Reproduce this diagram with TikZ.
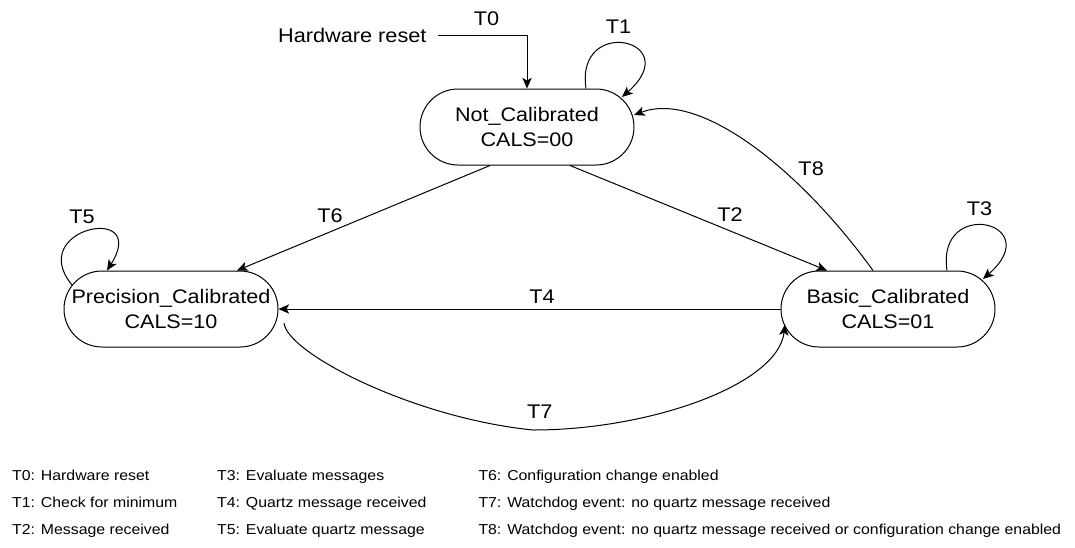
\documentclass[tikz,border=0pt]{standalone}
\usepackage{fontspec}
\setmainfont{Liberation Sans}[FakeStretch=1.1]
\usetikzlibrary{automata, positioning, arrows.meta}
\tikzset{
->, % every connector is directed
>={Stealth[length=8pt, width=7pt, inset=2pt]}, % filled arrow heads
node distance=537.75pt, % centre to centre of the two lower states
every state/.style={rectangle, rounded corners=28.5pt, minimum width=160.5pt, minimum height=57pt, inner sep=0pt, align=center, font=\fontsize{14.7}{18.75}\selectfont}, % rounded state boxes
lbl/.style={inner sep=1.5pt, font=\fontsize{14.8}{16}\selectfont}, % transition names
legend/.style={anchor=base west, inner sep=0pt, font=\fontsize{10.8}{13}\selectfont}, % key below the graph
}

\begin{document}
\begin{tikzpicture}[x=0.75pt, y=-0.75pt, line width=0.75pt]
        \useasboundingbox (0,0) rectangle (1075,547);

        \node[state] (prec) at (171,309) {Precision\_Calibrated\\CALS=10};
        \node[state, right of=prec] (basic) {Basic\_Calibrated\\CALS=01};
        \node[state] (notcal) at (527,127) {Not\_Calibrated\\CALS=00};
        \node[lbl, inner sep=0pt, anchor=east] (hwreset) at (427,35) {Hardware reset};

        \draw ([xshift=8.25pt]hwreset.east) -| (notcal.north) node[lbl, above=5pt, pos=0.272] {T0};
        \draw ([xshift=44.25pt]notcal.north) .. controls +(-11,-74) and +(65,-57) .. ([shift={(71.25pt,22.5pt)}]notcal.center) node[lbl, above=5pt, pos=0.45] {T1};
        \draw ([xshift=32.25pt]notcal.south) -- node[lbl, above=5pt, pos=0.623] {T2} ([xshift=-45.75pt]basic.north);
        \draw ([xshift=44.25pt]basic.north) .. controls +(-11,-74) and +(65,-57) .. ([shift={(71.25pt,22.5pt)}]basic.center) node[lbl, above=5pt, pos=0.45] {T3};
        \draw (basic.west) -- node[lbl, above=2pt, pos=0.475] {T4} (prec.east);
        \draw ([shift={(-74.25pt,18pt)}]prec.center) .. controls +(-47,-57) and +(43,-68) .. ([xshift=-48pt]prec.north) node[lbl, above=5pt, pos=0.45] {T5};
        \draw ([xshift=-27.75pt]notcal.south) -- node[lbl, above=5pt, pos=0.632] {T6} ([xshift=49.5pt]prec.north);
        \coordinate (t7mid) at (533,430);
        \draw ([shift={(84.75pt,-10.5pt)}]prec.center) .. controls +(3,30) and +(-120,-12) .. (t7mid) node[lbl, above=6.5pt, xshift=5pt] {T7}
        .. controls +(117,0) and +(-7,60) .. ([shift={(-77.25pt,-11.75pt)}]basic.center);
        \draw ([xshift=-11.25pt]basic.north) .. controls +(-73,-101) and +(66,-25) .. ([shift={(80.25pt,9pt)}]notcal.center) node[lbl, above right=2pt, pos=0.33] {T8};

        \node[legend] (leg0) at (11.7,480.7) {T0: Hardware reset};
        \node[legend] (leg1) at (11.7,507.3) {T1: Check for minimum};
        \node[legend] (leg2) at (11.7,534) {T2: Message received};
        \node[legend] (leg3) at (216.7,480.7) {T3: Evaluate messages};
        \node[legend] (leg4) at (216.7,507.3) {T4: Quartz message received};
        \node[legend] (leg5) at (216.7,534) {T5: Evaluate quartz message};
        \node[legend] (leg6) at (478,480.7) {T6: Configuration change enabled};
        \node[legend] (leg7) at (478,507.3) {T7: Watchdog event: no quartz message received};
        \node[legend] (leg8) at (478,534) {T8: Watchdog event: no quartz message received or configuration change enabled};
      \end{tikzpicture}
\end{document}
